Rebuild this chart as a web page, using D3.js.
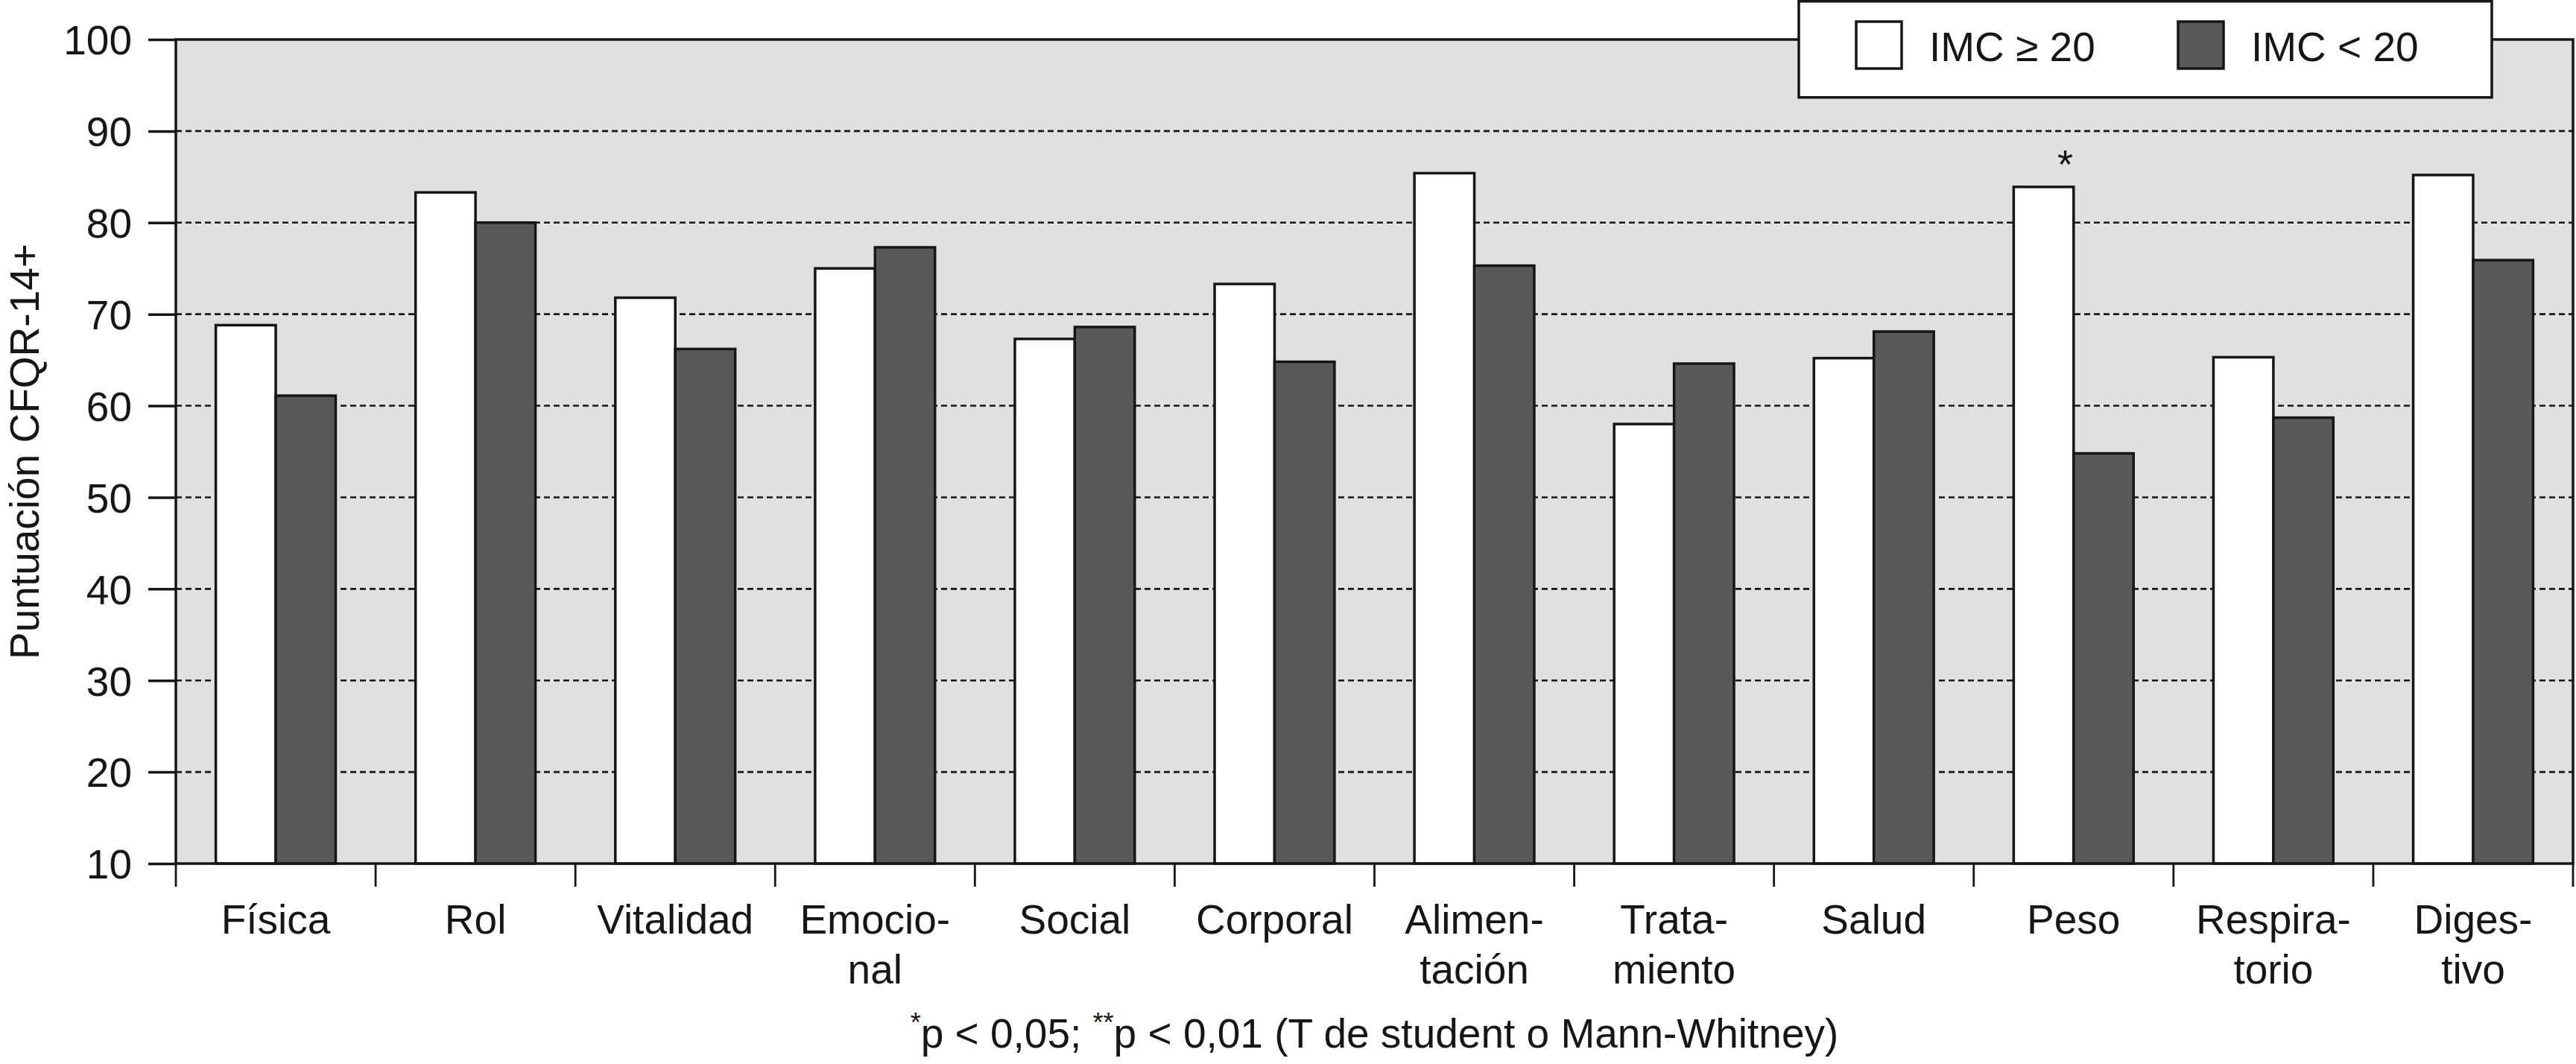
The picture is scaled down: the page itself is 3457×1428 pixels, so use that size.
<!DOCTYPE html>
<html>
<head>
<meta charset="utf-8">
<script src="https://cdn.jsdelivr.net/npm/d3@7/dist/d3.min.js"></script>
<style>
  html, body { margin: 0; padding: 0; background: #ffffff; }
  svg { display: block; font-family: "Liberation Sans", Arial, sans-serif; }
</style>
</head>
<body>
<svg id="chart" width="3457" height="1428"></svg>
<script>
// ---- data ----
const categories = ["Física", "Rol", "Vitalidad", "Emocional", "Social", "Corporal",
                    "Alimentación", "Tratamiento", "Salud", "Peso", "Respiratorio", "Digestivo"];
const categoryLabels = [["Física"], ["Rol"], ["Vitalidad"], ["Emocio-", "nal"], ["Social"], ["Corporal"],
                        ["Alimen-", "tación"], ["Trata-", "miento"], ["Salud"], ["Peso"], ["Respira-", "torio"], ["Diges-", "tivo"]];
const seriesNames = ["IMC ≥ 20", "IMC < 20"];
const imcHigh = [68.8, 83.3, 71.8, 75.0, 67.3, 73.3, 85.4, 58.0, 65.2, 83.9, 65.3, 85.2];
const imcLow  = [61.1, 80.0, 66.2, 77.3, 68.6, 64.8, 75.3, 64.6, 68.1, 54.8, 58.7, 75.9];
const significance = ["", "", "", "", "", "", "", "", "", "*", "", ""];
const yTicks = [10, 20, 30, 40, 50, 60, 70, 80, 90, 100];
const yTitle = "Puntuación CFQR-14+";
const seriesColors = ["#ffffff", "#595959"];

// ---- layout ----
const svg = d3.select("#chart");
const pLeft = 236, pRight = 3453, pTop = 53, pBottom = 1159;
const ink = "#161616";

const x0 = d3.scaleBand().domain(categories).range([pLeft, pRight]).paddingInner(0.4).paddingOuter(0.2);
const x1 = d3.scaleBand().domain(seriesNames).range([0, x0.bandwidth()]).padding(0);
const y = d3.scaleLinear().domain([10, 100]).range([pBottom, pTop]);

const rows = categories.map((c, i) => ({ cat: c, values: [imcHigh[i], imcLow[i]], sig: significance[i], label: categoryLabels[i] }));

// plot background
svg.append("rect").attr("x", pLeft).attr("y", pTop).attr("width", pRight - pLeft).attr("height", pBottom - pTop)
  .attr("fill", "#e0e0e0");

// dashed grid
svg.append("g").selectAll("line").data(yTicks.filter(t => t > 10 && t < 100)).join("line")
  .attr("x1", pLeft).attr("x2", pRight).attr("y1", d => y(d)).attr("y2", d => y(d))
  .attr("stroke", ink).attr("stroke-width", 2.6).attr("stroke-dasharray", "8,5");

// bars
const groups = svg.append("g").selectAll("g").data(rows).join("g")
  .attr("transform", d => `translate(${x0(d.cat)},0)`);
groups.selectAll("rect").data(d => d.values.map((v, j) => ({ v, s: seriesNames[j], j }))).join("rect")
  .attr("x", d => x1(d.s)).attr("width", x1.bandwidth())
  .attr("y", d => y(d.v)).attr("height", d => y(10) - y(d.v))
  .attr("fill", d => seriesColors[d.j]).attr("stroke", ink).attr("stroke-width", 3.5);

// significance marks
groups.filter(d => d.sig).append("text")
  .attr("x", x1(seriesNames[0]) + x1.bandwidth() * 0.86)
  .attr("y", d => y(d.values[0]) - 12)
  .attr("text-anchor", "middle").attr("font-size", 54).attr("fill", ink)
  .text(d => d.sig);

// frame
svg.append("rect").attr("x", pLeft).attr("y", pTop).attr("width", pRight - pLeft).attr("height", pBottom - pTop)
  .attr("fill", "none").attr("stroke", ink).attr("stroke-width", 3.5);

// y axis
const yAxis = svg.append("g").attr("transform", `translate(${pLeft},0)`)
  .call(d3.axisLeft(y).tickValues(yTicks).tickSize(37).tickPadding(22).tickFormat(d3.format("d")));
yAxis.select(".domain").remove();
yAxis.selectAll(".tick line").attr("stroke", ink).attr("stroke-width", 3.5);
yAxis.selectAll(".tick text").attr("font-size", 55).attr("fill", ink)
  .attr("font-family", "'Liberation Sans', Arial, sans-serif").attr("dy", "0.36em");

// x axis ticks at band boundaries
const half = (x0.step() - x0.bandwidth()) / 2;
const boundaries = categories.map(c => x0(c) - half).concat([pRight]);
svg.append("g").selectAll("line").data(boundaries).join("line")
  .attr("x1", d => d).attr("x2", d => d).attr("y1", pBottom).attr("y2", pBottom + 31)
  .attr("stroke", ink).attr("stroke-width", 2.8);

// x labels
const xl = svg.append("g").selectAll("text").data(rows).join("text")
  .attr("text-anchor", "middle").attr("font-size", 55).attr("fill", ink)
  .attr("x", d => x0(d.cat) + x0.bandwidth() / 2).attr("y", 1253);
xl.selectAll("tspan").data(d => d.label.map(l => ({ l, x: x0(d.cat) + x0.bandwidth() / 2 }))).join("tspan")
  .attr("x", d => d.x).attr("dy", (d, i) => i === 0 ? 0 : 67).text(d => d.l);

// y title
svg.append("text").attr("transform", `translate(52,${(pTop + pBottom) / 2}) rotate(-90)`)
  .attr("text-anchor", "middle").attr("font-size", 55).attr("fill", ink).text(yTitle);

// footnote
const fn = svg.append("text").attr("x", (pLeft + pRight) / 2).attr("y", 1406)
  .attr("text-anchor", "middle").attr("font-size", 55).attr("fill", ink);
fn.append("tspan").attr("font-size", 36).attr("dy", -21).text("*");
fn.append("tspan").attr("dy", 21).text("p < 0,05; ");
fn.append("tspan").attr("font-size", 36).attr("dy", -21).text("**");
fn.append("tspan").attr("dy", 21).text("p < 0,01 (T de student o Mann-Whitney)");

// legend
const lg = svg.append("g");
lg.append("rect").attr("x", 2414).attr("y", 1.75).attr("width", 930).attr("height", 129)
  .attr("fill", "#ffffff").attr("stroke", ink).attr("stroke-width", 3.5);
const items = lg.selectAll("g").data(seriesNames).join("g")
  .attr("transform", (d, i) => `translate(${2491 + i * 432},0)`);
items.append("rect").attr("x", 0).attr("y", 29).attr("width", 61).attr("height", 63)
  .attr("fill", (d, i) => seriesColors[i]).attr("stroke", ink).attr("stroke-width", 3.5);
items.append("text").attr("x", 98).attr("y", 82).attr("font-size", 55).attr("fill", ink).text(d => d);
</script>
</body>
</html>
